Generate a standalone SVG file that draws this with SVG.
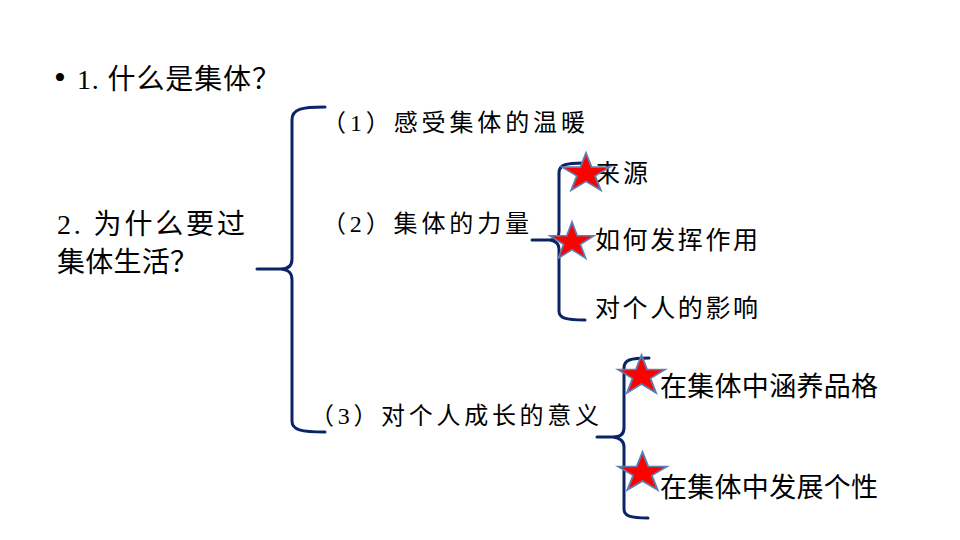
<svg xmlns="http://www.w3.org/2000/svg" width="960" height="540" viewBox="0 0 960 540">
  <style>
    .serif { font-family: "Liberation Serif", "Noto Sans CJK SC", serif; fill: #000; }
    .sans { font-family: "Liberation Sans", "Noto Sans CJK SC", sans-serif; fill: #000; }
    .brace { fill: none; stroke: #0a2466; stroke-width: 3; stroke-linecap: round; stroke-linejoin: round; }
    .star { fill: #ff0000; stroke: #5b7fb5; stroke-width: 1.5; vector-effect: non-scaling-stroke; }
  </style>
  <defs>
    <path id="starShape" d="M0,-20 L4.49,-6.18 L19.02,-6.18 L7.27,2.36 L11.76,16.18 L0,7.64 L-11.76,16.18 L-7.27,2.36 L-19.02,-6.18 L-4.49,-6.18 Z"/>
  </defs>
  <rect width="960" height="540" fill="#ffffff"/>

  <g id="connectors">
    <path class="brace" d="M325,107 C301,107 292,109 292,120 L292,259 C292,265 289,269 281,269 L257,269 M281,269 C289,270 292,273 292,280 L292,421 C292,430 301,432 325,432"/>
    <path class="brace" d="M584,163 C565,163 559,165 559,173 L559,232 C559,237 556,240 550,240 L532,240 M550,240 C556,241 559,244 559,249 L559,311 C559,318 565,320 585,320"/>
    <path class="brace" d="M649,358 C630,358 624,360 624,368 L624,428 C624,434 620,437 613,437 L597,437 M613,437 C620,438 624,441 624,447 L624,509 C624,516 630,518 648,518"/>
  </g>

  <g id="q1">
    <text class="serif" x="54" y="89" font-size="34">•</text>
    <text class="serif" x="77" y="89" font-size="28" textLength="203" lengthAdjust="spacing">1. 什么是集体？</text>
  </g>
  <g id="q2">
    <text class="serif" x="57" y="234" font-size="28" textLength="188" lengthAdjust="spacing">2. 为什么要过</text>
    <text class="serif" x="57" y="272" font-size="28" textLength="141" lengthAdjust="spacing">集体生活？</text>
  </g>
  <g id="item1">
    <text class="serif" x="322" y="131" font-size="24" textLength="263" lengthAdjust="spacing">（1）感受集体的温暖</text>
  </g>
  <g id="item2">
    <text class="serif" x="322" y="232" font-size="24" textLength="207" lengthAdjust="spacing">（2）集体的力量</text>
  </g>
  <g id="item3">
    <text class="serif" x="310" y="424" font-size="24" textLength="289" lengthAdjust="spacing">（3）对个人成长的意义</text>
  </g>
  <g id="source">
    <text class="serif" x="595" y="182" font-size="25" textLength="53" lengthAdjust="spacing">来源</text>
  </g>
  <g id="effect">
    <text class="serif" x="595" y="249" font-size="25" textLength="163" lengthAdjust="spacing">如何发挥作用</text>
  </g>
  <g id="influence">
    <text class="serif" x="595" y="317" font-size="25" textLength="163" lengthAdjust="spacing">对个人的影响</text>
  </g>
  <g id="character">
    <text class="sans" x="660" y="396" font-size="27" textLength="218" lengthAdjust="spacing">在集体中涵养品格</text>
  </g>
  <g id="personality">
    <text class="sans" x="660" y="497" font-size="27" textLength="218" lengthAdjust="spacing">在集体中发展个性</text>
  </g>

  <g id="stars">
    <use href="#starShape" class="star" transform="translate(586,173.5) scale(1.26,1.03)"/>
    <use href="#starShape" class="star" transform="translate(572,242) scale(1.16,1.0)"/>
    <use href="#starShape" class="star" transform="translate(641.5,376) scale(1.24,1.05)"/>
    <use href="#starShape" class="star" transform="translate(642.5,473) scale(1.29,1.05)"/>
  </g>
</svg>
